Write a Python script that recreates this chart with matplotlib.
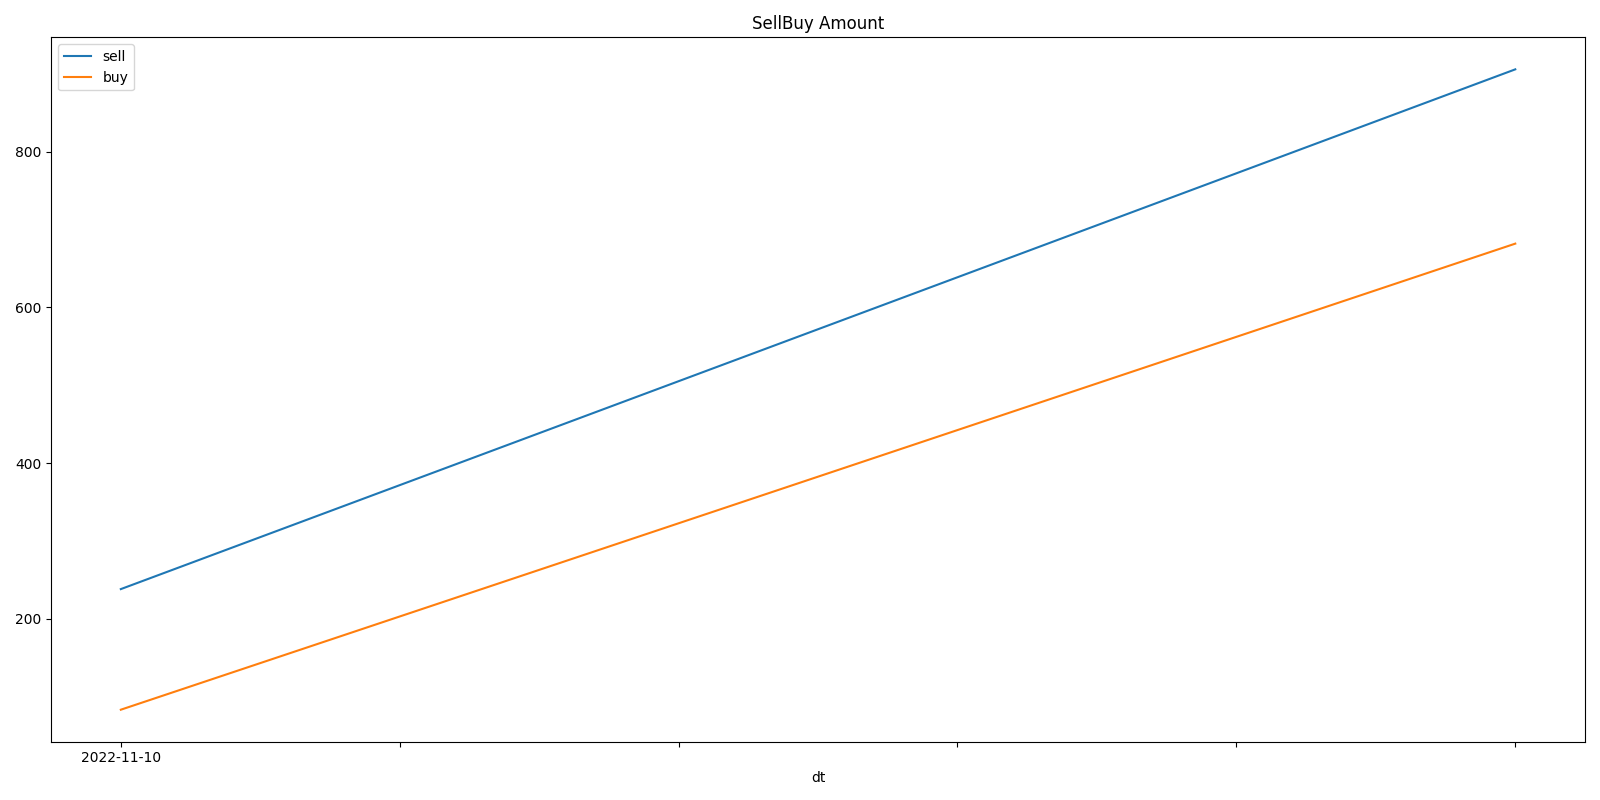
import matplotlib
matplotlib.use("Agg")
import matplotlib.pyplot as plt
import numpy as np

# Data
dt = ["2022-11-10", "2022-11-11"]
sell = [238, 906]
buy = [83, 682]
tick_pos = [0.0, 0.2, 0.4, 0.6, 0.8, 1.0]
tick_labels = ["2022-11-10", "", "", "", "", ""]

x = np.arange(len(dt))

fig, ax = plt.subplots(figsize=(16, 8), dpi=100)
ax.plot(x, sell, label="sell")
ax.plot(x, buy, label="buy")
ax.set_xticks(tick_pos)
ax.set_xticklabels(tick_labels)
ax.set_title("SellBuy Amount")
ax.set_xlabel("dt")
ax.legend(loc="upper left")
plt.tight_layout()
plt.savefig("out.png")
